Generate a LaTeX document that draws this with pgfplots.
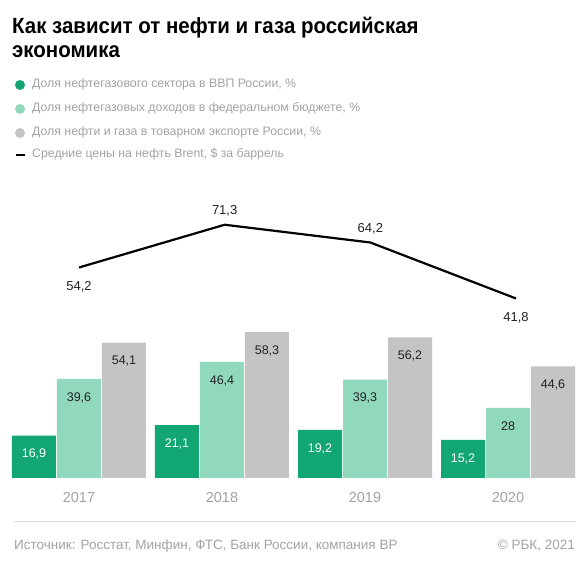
\documentclass[border=0pt]{standalone}
\usepackage{pgfplots}
\pgfplotsset{compat=1.18}
\usepackage{fontspec}
\setmainfont{Liberation Sans}
\definecolor{dgreen}{HTML}{12A772}
\definecolor{lgreen}{HTML}{91D9BD}
\definecolor{bgray}{HTML}{C4C4C4}
\definecolor{txtgray}{HTML}{A3A3A3}
\definecolor{labdark}{HTML}{222222}
\definecolor{sepgray}{HTML}{DDDDDD}
\begin{document}
\begin{tikzpicture}[x=1pt,y=1pt]
\fill[white] (0,0) rectangle (583,564);
% title
\node[anchor=base west, inner sep=0, text=black] at (12,530.7) {\scalebox{0.93}[1]{\fontsize{22}{26}\selectfont\bfseries Как зависит от нефти и газа российская}};
\node[anchor=base west, inner sep=0, text=black] at (12,506.3) {\scalebox{0.93}[1]{\fontsize{22}{26}\selectfont\bfseries экономика}};
% legend
\fill[dgreen] (20,479) circle (5);
\fill[lgreen] (20,455) circle (5);
\fill[bgray] (20,431) circle (5);
\draw[black, line width=1.5pt] (16,409) -- (24.5,409);
\begin{scope}[every node/.style={anchor=mid west, inner sep=0, font=\fontsize{12.3}{15}\selectfont, text=txtgray}]
\node at (32,479) {Доля нефтегазового сектора в ВВП России, \%};
\node at (32,455) {Доля нефтегазовых доходов в федеральном бюджете, \%};
\node at (32,431) {Доля нефти и газа в товарном экспорте России, \%};
\node at (32,409) {Средние цены на нефть Brent, \$ за баррель};
\end{scope}
% bars
\begin{axis}[at={(0pt,86pt)}, anchor=south west, scale only axis,
  width=583pt, height=300pt, xmin=-0.5524, xmax=3.5245, ymin=0, ymax=120,
  clip=false, axis line style={draw=none}, tick style={draw=none},
  ytick=\empty, xtick={0,1,2,3}, xticklabels={2017,2018,2019,2020},
  xticklabel style={anchor=center, yshift=-20pt, font=\fontsize{14.5}{16}\selectfont, text=txtgray},
  /pgf/number format/assume math mode=true,
  /pgf/number format/use comma, /pgf/number format/1000 sep={},
  bar width=44pt]
\addplot[ybar, bar shift=-45pt, fill=dgreen, draw=none, nodes near coords,
  nodes near coords style={anchor=center, xshift=-45pt, yshift=-18.5pt, text=white, font=\fontsize{12.5}{14}\selectfont}]
  coordinates {(0,16.9) (1,21.1) (2,19.2) (3,15.2)};
\addplot[ybar, bar shift=0pt, fill=lgreen, draw=none, nodes near coords,
  nodes near coords style={anchor=center, yshift=-18.5pt, text=labdark, font=\fontsize{12.5}{14}\selectfont}]
  coordinates {(0,39.6) (1,46.4) (2,39.3) (3,28)};
\addplot[ybar, bar shift=45pt, fill=bgray, draw=none, nodes near coords,
  nodes near coords style={anchor=center, xshift=45pt, yshift=-18.5pt, text=labdark, font=\fontsize{12.5}{14}\selectfont}]
  coordinates {(0,54.1) (1,58.3) (2,56.2) (3,44.6)};
\end{axis}
% line
\begin{axis}[at={(0pt,86pt)}, anchor=south west, scale only axis,
  width=583pt, height=300pt, xmin=-0.5423, xmax=3.4600, ymin=-30, ymax=90,
  clip=false, hide axis,
  /pgf/number format/assume math mode=true,
  /pgf/number format/use comma, /pgf/number format/1000 sep={}]
\addplot[black, line width=2.2pt, no marks] coordinates {(0,54.2) (1,71.3) (2,64.2) (3,41.8)};
\addplot[draw=none, no marks, nodes near coords, point meta=y,
  nodes near coords style={anchor=center, yshift=-19pt, text=labdark, font=\fontsize{13}{15}\selectfont}]
  coordinates {(0,54.2) (3,41.8)};
\addplot[draw=none, no marks, nodes near coords, point meta=y,
  nodes near coords style={anchor=center, yshift=13.5pt, text=labdark, font=\fontsize{13}{15}\selectfont}]
  coordinates {(1,71.3) (2,64.2)};
\end{axis}
% footer
\draw[sepgray, line width=1pt] (14,42.3) -- (576,42.3);
\node[anchor=base west, inner sep=0, font=\fontsize{13.5}{15}\selectfont, text=txtgray] at (14,14) {Источник: Росстат, Минфин, ФТС, Банк России, компания BP};
\node[anchor=base east, inner sep=0, font=\fontsize{13.5}{15}\selectfont, text=txtgray] at (575,14) {© РБК, 2021};
\end{tikzpicture}
\end{document}
